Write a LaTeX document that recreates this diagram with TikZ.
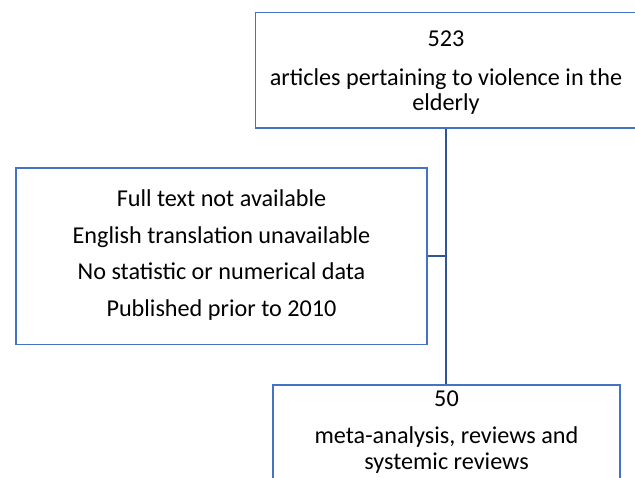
\documentclass[tikz,border=0pt]{standalone}
\usepackage{fontspec}
\setmainfont{Carlito}
\definecolor{boxblue}{HTML}{4472C4}
\definecolor{lineblue}{HTML}{2F5597}
\begin{document}
\begin{tikzpicture}[x=1pt,y=1pt,
  box/.style={draw=boxblue,line width=1.3pt,fill=white,inner sep=0pt},
  txt/.style={anchor=base,inner sep=0pt,font=\fontsize{24.2}{29}\selectfont,text=black},
  conn/.style={draw=lineblue,line width=1.8pt}]
\clip (0,0) rectangle (635,478);
\fill[white] (0,0) rectangle (635,478);
\node[box,minimum width=381.5,minimum height=115.5] (top) at (446.25,407.75) {};
\node[box,minimum width=411,minimum height=176.5] (left) at (221.5,221.75) {};
\node[box,minimum width=347,minimum height=135] (bot) at (446.5,25.5) {};
\draw[conn] (top.south) -- (bot.north -| top.south);
\draw[conn] (left.east) -- (left.east -| top.south);
\node[txt] (t1) at (446,431.3) {523};
\node[txt] (t2) at (446,392.5) {articles pertaining to violence in the};
\node[txt] (t3) at (446,367.5) {elderly};
\node[txt] (l1) at (221.5,271.3) {Full text not available};
\node[txt] (l2) at (221.5,234.7) {English translation unavailable};
\node[txt] (l3) at (221.5,198.7) {No statistic or numerical data};
\node[txt] (l4) at (221.5,161.3) {Published prior to 2010};
\node[txt] (b1) at (446.5,71.3) {50};
\node[txt] (b2) at (446.5,34) {meta-analysis, reviews and};
\node[txt] (b3) at (446.5,8) {systemic reviews};
\end{tikzpicture}
\end{document}
